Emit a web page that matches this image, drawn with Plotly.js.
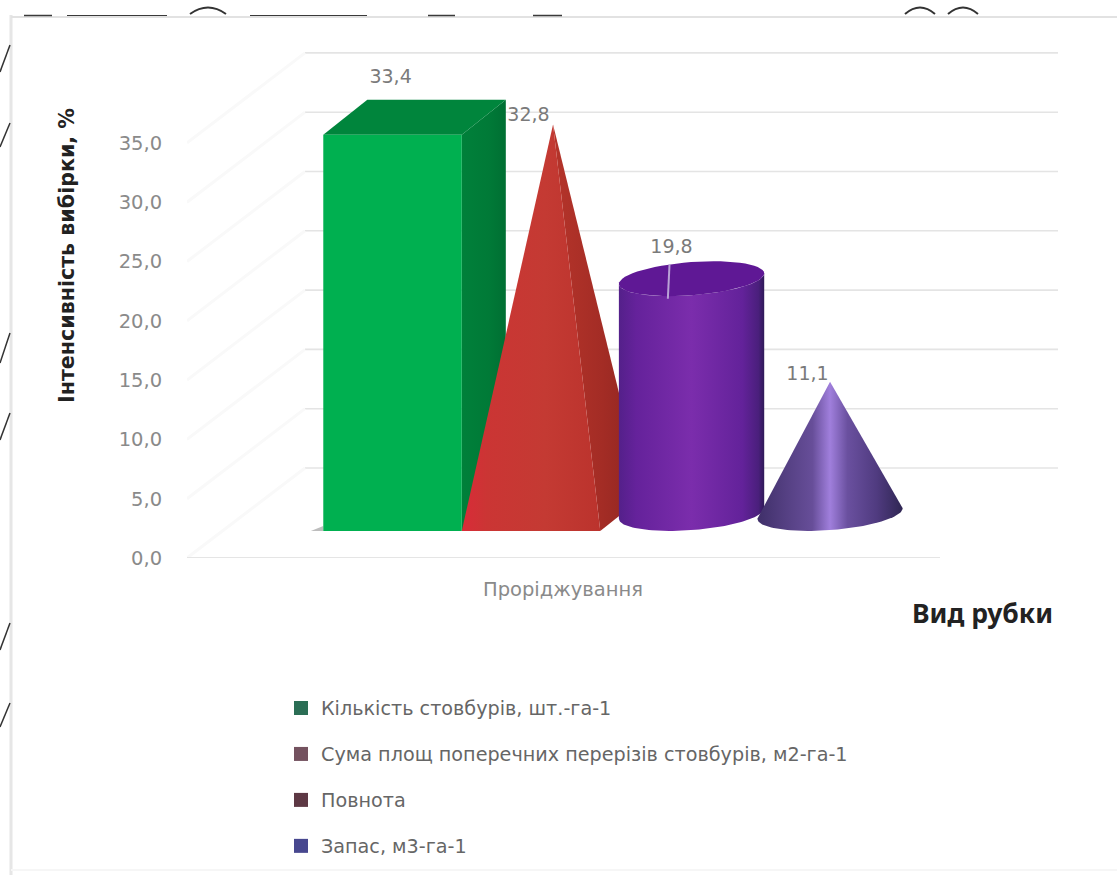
<!DOCTYPE html>
<html lang="uk">
<head>
<meta charset="utf-8">
<title>Інтенсивність вибірки</title>
<script src="https://cdn.plot.ly/plotly-3.0.1.min.js"></script>
<style>html,body{margin:0;padding:0;background:#fff}#chart{width:1117px;height:875px}</style>
</head>
<body>
<div id="chart"></div>
<script>
// Data
const categories = ['Проріджування'];
const seriesNames = [
  'Кількість стовбурів, шт.-га-1',
  'Сума площ поперечних перерізів стовбурів, м2-га-1',
  'Повнота',
  'Запас, м3-га-1'
];
const seriesValues = [33.4, 32.8, 19.8, 11.1];
const yTicks = [0, 5, 10, 15, 20, 25, 30, 35];
const wallLevels = [5, 10, 15, 20, 25, 30, 35, 40];
const legendColors = ['#2b6e55', '#74525f', '#5d3844', '#47478f'];

// Page geometry and oblique projection of the 3-D scene
const W = 1117, H = 875;
const M = {l: 187, r: 59, t: 48, b: 317};
const yMax = (H - M.t - M.b) / 11.86;
const xMin = -1.484, xMax = 4.805;
const floorEnd = 3.953, wallStart = -0.632;
const baseFront = 2.28;          // floor height of the front row in y units
const depthX = 0.318, depthY = 2.95;
const wallLift = 2.59;

const px = x => (x - M.l) / (W - M.l - M.r);
const py = y => (H - M.b - y) / (H - M.t - M.b);
const ff = '"DejaVu Sans", "Noto Sans", sans-serif';
const ffTitle = '"Noto Sans", "Open Sans", sans-serif';

function poly(xs, ys, fill, gradient) {
  const t = {type: 'scatter', mode: 'lines', x: xs.concat(xs[0]), y: ys.concat(ys[0]),
    fill: 'toself', line: {width: 0}, hoverinfo: 'skip', showlegend: false};
  if (gradient) t.fillgradient = {type: 'horizontal', colorscale: gradient};
  else t.fillcolor = fill;
  return t;
}

// Outline of a base circle under the oblique projection
function ellipse(cx, cy, fromDeg, toDeg) {
  const xs = [], ys = [];
  for (let d = 0; d <= 60; d++) {
    const t = (fromDeg + (toDeg - fromDeg) * d / 60) * Math.PI / 180;
    xs.push(cx + 0.5 * Math.cos(t) + depthX / 2 * Math.sin(t));
    ys.push(cy + depthY / 2 * Math.sin(t));
  }
  return {xs, ys};
}

const tan = Math.atan((depthX / 2) / 0.5) * 180 / Math.PI;
const midBase = baseFront + depthY / 2;
const traces = [];

// Box: series 0
(function () {
  const v = seriesValues[0], c = 0, l = c - 0.5, r = c + 0.5, b = baseFront, t = b + v;
  traces.push(poly([l - 0.09, l, l], [b, b, b + 0.42], '#bdbdbd'));
  traces.push(poly([r, r + depthX, r + depthX, r], [b, b + depthY, t + depthY, t], null,
    [[0, '#00803a'], [0.6, '#007a37'], [1, '#006f33']]));
  traces.push(poly([l, r, r + depthX, l + depthX], [t, t, t + depthY, t + depthY], '#00853c'));
  traces.push(poly([l, r, r, l], [b, b, t, t], '#00b050'));
})();

// Pyramid: series 1
(function () {
  const v = seriesValues[1], c = 1, l = c - 0.5, r = c + 0.5, b = baseFront;
  const ax = c + depthX / 2, ay = midBase + v;
  traces.push(poly([r, r + depthX, ax], [b, b + depthY, ay], null,
    [[0, '#b5342a'], [0.55, '#a32c25'], [1, '#8c2420']]));
  traces.push(poly([l, r, ax], [b, b, ay], null,
    [[0, '#d92b38'], [0.18, '#cb3534'], [0.6, '#c43a33'], [1, '#bb332d']]));
})();

// Cylinder: series 2
(function () {
  const v = seriesValues[2], c = 2, cx = c + depthX / 2;
  const bottom = ellipse(cx, midBase, 180 + tan, 360 + tan);
  const top = ellipse(cx, midBase + v, 360 + tan, 180 + tan);
  traces.push(poly(bottom.xs.concat(top.xs), bottom.ys.concat(top.ys), null,
    [[0, '#54208a'], [0.12, '#65229b'], [0.5, '#7b2dac'], [0.85, '#63229a'], [0.96, '#4a1f7c'], [1, '#2f1a58']]));
  const cap = ellipse(cx, midBase + v, 0, 360);
  traces.push(poly(cap.xs, cap.ys, '#5f1895'));
})();

// Cone: series 3
(function () {
  const v = seriesValues[3], c = 3, cx = c + depthX / 2;
  const base = ellipse(cx, midBase, 180 + tan, 360 + tan);
  traces.push(poly(base.xs.concat(cx), base.ys.concat(midBase + v), null,
    [[0, '#3f2f69'], [0.2, '#554083'], [0.38, '#674e99'], [0.5, '#a07fdc'], [0.62, '#6a509f'], [0.82, '#503b80'], [1, '#2f2653']]));
})();

// Value labels and the leader line of the third one
const labelX = [-0.014, 0.982, 2.014, 2.996];
const labelLift = [baseFront + 4.78, midBase + 0.68, midBase + 2.55, midBase + 0.52];
traces.push({
  type: 'scatter', mode: 'lines',
  x: [2, 1.988],
  y: [seriesValues[2] + midBase + 1.2, seriesValues[2] + midBase - 1.7],
  line: {color: '#b9a2d6', width: 2}, hoverinfo: 'skip', showlegend: false
});
traces.push({
  type: 'scatter', mode: 'text',
  x: labelX,
  y: seriesValues.map((v, i) => v + labelLift[i]),
  text: seriesValues.map(v => v.toFixed(1).replace('.', ',')),
  textposition: 'middle center',
  textfont: {family: ff, size: 19, color: '#7a7a7a'},
  hoverinfo: 'skip', showlegend: false
});

// Legend entries
seriesNames.forEach((name, i) => traces.push({
  type: 'scatter', mode: 'markers', x: [null], y: [null], name,
  legendgroup: 'g' + i,
  marker: {symbol: 'square', size: 14, color: legendColors[i]},
  hoverinfo: 'skip'
}));

// Back wall lines, side wall diagonals and the floor line
const shapes = [];
wallLevels.forEach(w => shapes.push({
  type: 'line', layer: 'below', xref: 'x', yref: 'y',
  x0: wallStart, x1: xMax, y0: w + wallLift, y1: w + wallLift,
  line: {color: '#e4e4e4', width: 1.6}
}));
yTicks.forEach(v => shapes.push({
  type: 'line', layer: 'below', xref: 'x', yref: 'y',
  x0: xMin, x1: wallStart, y0: v, y1: v + 5 + wallLift,
  line: {color: '#f9f9f9', width: 3}
}));
shapes.push({
  type: 'line', layer: 'below', xref: 'x', yref: 'y',
  x0: xMin, x1: floorEnd, y0: 0, y1: 0, line: {color: '#dcdcdc', width: 1.5}
});

// Frame of the figure and the torn ruling around it
const pline = (x0, y0, x1, y1, color, width) => shapes.push({
  type: 'line', xref: 'paper', yref: 'paper',
  x0: px(x0), x1: px(x1), y0: py(y0), y1: py(y1), line: {color, width}
});
pline(11, 15, 11, 875, '#e6e6e6', 3);
pline(11, 17, 1117, 17, '#e2e2e2', 2);
pline(11, 870, 1117, 870, '#f6f6f6', 2);
[[24, 52, 1.5], [67, 167, 1], [250, 367, 1], [428, 455, 1.5], [533, 562, 1.5]].forEach(s =>
  pline(s[0], 15.5, s[1], 15.5, '#3a3a3a', s[2]));
[[0, 72, 10, 45], [0, 147, 10, 123], [0, 363, 10, 333], [0, 440, 10, 413], [0, 650, 10, 623], [0, 727, 10, 703]].forEach(s =>
  pline(s[0], s[1], s[2], s[3], '#333333', 1.5));
[[190, 226], [905, 935], [948, 978]].forEach(a => shapes.push({
  type: 'path', xref: 'paper', yref: 'paper',
  path: `M ${px(a[0])} ${py(14)} Q ${px((a[0] + a[1]) / 2)} ${py(1)} ${px(a[1])} ${py(14)}`,
  line: {color: '#333333', width: 2}
}));

const layout = {
  width: W, height: H, autosize: false,
  margin: {l: M.l, r: M.r, t: M.t, b: M.b, autoexpand: false},
  paper_bgcolor: '#ffffff', plot_bgcolor: 'rgba(0,0,0,0)',
  separators: ', ',
  font: {family: ff, color: '#7a7a7a'},
  showlegend: true,
  legend: {
    x: px(281), y: py(689), xanchor: 'left', yanchor: 'top',
    tracegroupgap: 18, font: {family: ff, size: 19.2, color: '#666666'},
    itemclick: false, itemdoubleclick: false, bgcolor: 'rgba(0,0,0,0)'
  },
  xaxis: {
    range: [xMin, xMax], showgrid: false, zeroline: false, showline: false,
    tickmode: 'array', tickvals: [1.231], ticktext: categories,
    ticks: 'outside', ticklen: 14, tickcolor: 'rgba(0,0,0,0)',
    tickfont: {family: ff, size: 19.5, color: '#8a8a8a'}, fixedrange: true
  },
  yaxis: {
    range: [0, yMax], showgrid: false, zeroline: false, showline: false,
    tickmode: 'array', tickvals: yTicks, tickformat: '.1f',
    ticks: 'outside', ticklen: 20, tickcolor: 'rgba(0,0,0,0)',
    tickfont: {family: ff, size: 19.5, color: '#8a8a8a'}, fixedrange: true
  },
  shapes,
  annotations: [
    {text: '<b>Інтенсивність вибірки, %</b>', textangle: -90, showarrow: false,
     xref: 'paper', yref: 'paper', x: px(67), y: py(256),
     xanchor: 'center', yanchor: 'middle', font: {family: ff, size: 20.6, color: '#222222'}},
    {text: '<b>Вид рубки</b>', showarrow: false,
     xref: 'paper', yref: 'paper', x: px(982), y: py(613),
     xanchor: 'center', yanchor: 'middle', font: {family: ffTitle, size: 26.5, color: '#222222'}}
  ]
};

Plotly.newPlot('chart', traces, layout, {displayModeBar: false});
</script>
</body>
</html>
